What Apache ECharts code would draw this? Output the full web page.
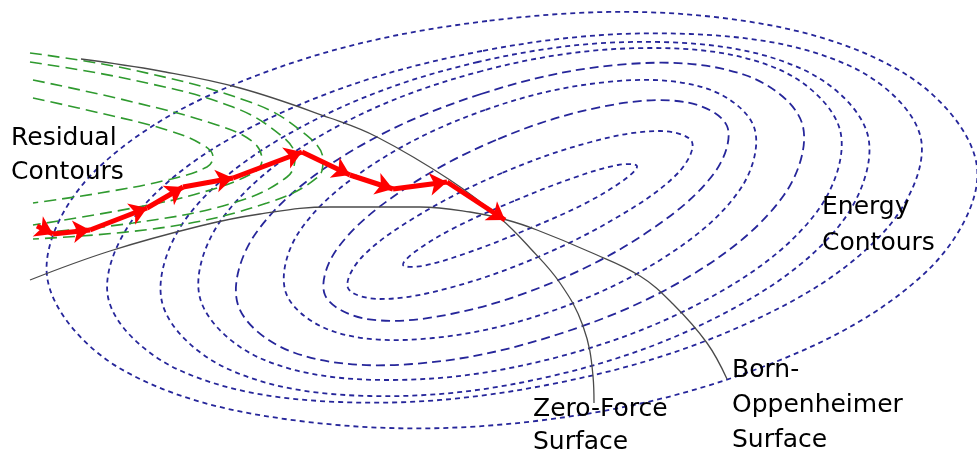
<!DOCTYPE html>
<html><head><meta charset="utf-8">
<script src="https://cdn.jsdelivr.net/npm/echarts@6/dist/echarts.min.js"></script>
<style>html,body{margin:0;padding:0;background:#fff}#c{width:977px;height:456px}</style>
</head><body><div id="c"></div>
<script>
// Energy contours (innermost E0 to outermost E8), outline points
const energyContour0 = [[514,201],[456,227],[416,251],[403,265],[422,266],[467,253],[526,230],[584,204],[624,180],[637,166],[618,165],[573,178]];
const energyContour1 = [[502,173],[419,215],[362,257],[348,288],[380,299],[449,288],[538,257],[621,215],[678,173],[692,142],[660,131],[591,142]];
const energyContour2 = [[496,140],[400,192],[337,249],[325,295],[367,319],[451,314],[556,281],[652,229],[715,172],[727,126],[685,102],[601,107]];
const energyContour3 = [[485,110],[372,165],[299,232],[286,293],[335,332],[433,338],[555,310],[668,255],[741,188],[754,127],[705,88],[607,82]];
const energyContour4 = [[481,94],[345,155],[256,233],[238,305],[295,353],[412,364],[559,334],[695,273],[784,195],[802,123],[745,75],[628,64]];
const energyContour5 = [[482,71],[327,132],[224,216],[200,298],[262,359],[393,380],[558,357],[713,296],[816,213],[840,130],[778,69],[647,48]];
const energyContour6 = [[478,62],[307,124],[191,212],[162,302],[228,369],[370,396],[552,376],[723,314],[839,226],[868,136],[802,69],[660,42]];
const energyContour7 = [[482,51],[283,112],[147,202],[108,297],[179,370],[339,402],[547,385],[746,324],[882,234],[921,139],[850,66],[690,34]];
const energyContour8 = [[487,21],[258,75],[97,169],[47,276],[121,369],[300,421],[536,421],[765,366],[926,272],[977,167],[902,72],[723,18]];

// Residual contours (green), innermost to outermost
const residualContour1 = [[33,98],[100,113],[167,130],[203,145],[213,157],[207,167],[167,180],[100,193],[33,203]];
const residualContour2 = [[33,80],[133,102],[217,125],[253,142],[262,160],[253,173],[200,193],[133,208],[33,225]];
const residualContour3 = [[30,62],[133,80],[233,107],[283,137],[295,157],[287,177],[233,203],[133,223],[33,233]];
const residualContour4 = [[30,53],[133,70],[250,102],[300,130],[323,160],[318,177],[267,203],[167,227],[33,239]];

// Surfaces (black)
const zeroForceSurface = [[81,59],[160,71],[240,88],[330,118],[377,137],[450,180],[500,218],[530,248],[560,283],[583,326],[593,376],[594,403]];
const bornOppenheimerSurface = [[30,280],[110,251],[200,226],[260,214],[330,207],[420,207],[470,212],[507,220],[537,230],[590,252],[640,276],[673,304],[707,343],[727,379]];

// Optimisation path (red arrows)
const pathPoints = [[37,226],[53,234],[90,230],[147,208],[183,187],[233,178],[302,152],[350,175],[393,189],[447,182],[505,220]];

const energyContours = [energyContour0,energyContour1,energyContour2,energyContour3,energyContour4,energyContour5,energyContour6,energyContour7,energyContour8];
const residualContours = [residualContour1,residualContour2,residualContour3,residualContour4];

const BLUE = '#26269a', GREEN = '#2f9a2f', BLACK = '#4a4a4a', RED = '#ff0000';
const FONT = '25px "DejaVu Sans", sans-serif';

const series = [];
// closed energy contours: custom series, smooth closed polygons through the axes
series.push({
  type: 'custom', coordinateSystem: 'cartesian2d', silent: true, z: 1, clip: false,
  data: energyContours.map((c, i) => [i]),
  renderItem: function (params, api) {
    const i = params.dataIndex;
    const pts = energyContours[i].map(p => api.coord(p));
    return {
      type: 'polygon',
      shape: { points: pts, smooth: 0.35 },
      style: { fill: 'none', stroke: BLUE, lineWidth: 1.8, lineDash: (i === 2 || i === 4) ? [9, 5] : [5, 4] }
    };
  }
});
residualContours.forEach(pts => {
  series.push({
    type: 'line', data: pts, smooth: 0.4, symbol: 'none', silent: true, z: 2,
    lineStyle: { color: GREEN, width: 1.6, type: [12, 6] }
  });
});
[zeroForceSurface, bornOppenheimerSurface].forEach(pts => {
  series.push({
    type: 'line', data: pts, smooth: 0.4, symbol: 'none', silent: true, z: 3,
    lineStyle: { color: BLACK, width: 1.3 }
  });
});
const segs = [];
for (let i = 0; i < pathPoints.length - 1; i++) segs.push({ coords: [pathPoints[i], pathPoints[i + 1]] });
series.push({
  type: 'lines', coordinateSystem: 'cartesian2d', data: segs, z: 5, silent: true,
  symbol: ['none', 'arrow'], symbolSize: [1, 17],
  lineStyle: { color: RED, width: 5, opacity: 1, curveness: 0 }
});

const chart = echarts.init(document.getElementById('c'));
chart.setOption({
  animation: false,
  backgroundColor: '#ffffff',
  grid: { left: 0, right: 0, top: 0, bottom: 0 },
  xAxis: { type: 'value', min: 0, max: 977, show: false },
  yAxis: { type: 'value', min: 0, max: 456, inverse: true, show: false },
  series: series,
  graphic: [
    { type: 'text', x: 11, y: 121, z: 10, style: { text: 'Residual\nContours', font: FONT, fill: '#000', lineHeight: 34, verticalAlign: 'top' } },
    { type: 'text', x: 822, y: 189, z: 10, style: { text: 'Energy\nContours', font: FONT, fill: '#000', lineHeight: 36, verticalAlign: 'top' } },
    { type: 'text', x: 533, y: 393, z: 10, style: { text: 'Zero-Force\nSurface', font: FONT, fill: '#000', lineHeight: 33, verticalAlign: 'top' } },
    { type: 'text', x: 732, y: 353, z: 10, style: { text: 'Born-\nOppenheimer\nSurface', font: FONT, fill: '#000', lineHeight: 35, verticalAlign: 'top' } }
  ]
});
</script></body></html>
